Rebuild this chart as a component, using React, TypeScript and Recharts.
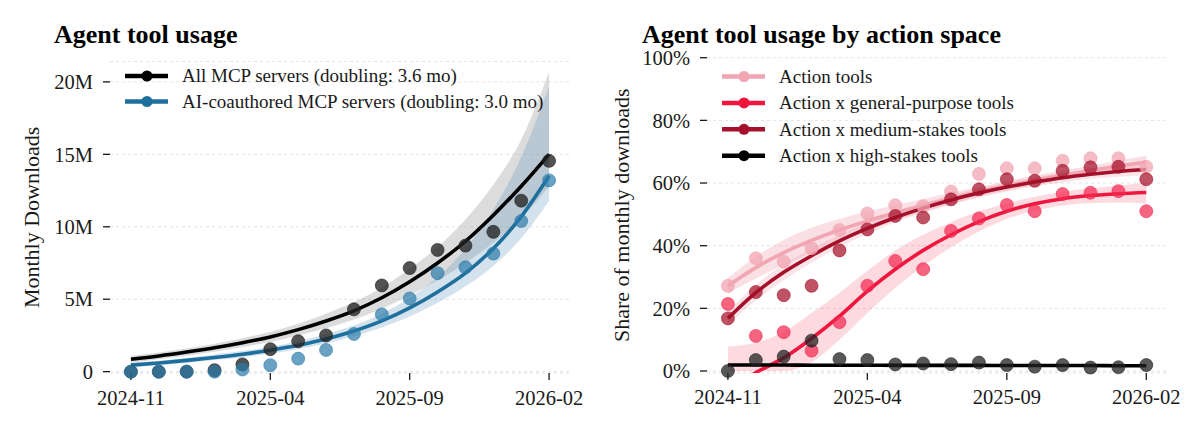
import { Area, CartesianGrid, ComposedChart, Line, XAxis, YAxis } from 'recharts';

const MONTHS = [
  '2024-11', '2024-12', '2025-01', '2025-02', '2025-03', '2025-04', '2025-05', '2025-06',
  '2025-07', '2025-08', '2025-09', '2025-10', '2025-11', '2025-12', '2026-01', '2026-02',
];
const X_TICKS = [0, 5, 10, 15];

// left panel, millions of monthly downloads
const ALL_POINTS = [0, 0, 0, 0.1, 0.5, 1.55, 2.1, 2.5, 4.3, 5.95, 7.15, 8.4, 8.7, 9.65, 11.8, 14.55];
const AI_POINTS = [0, 0, 0, 0, 0.15, 0.45, 0.9, 1.5, 2.6, 3.95, 5.05, 6.8, 7.2, 8.15, 10.4, 13.2];
const ALL_FIT = [0.85, 1.08, 1.35, 1.65, 2.0, 2.4, 2.9, 3.5, 4.2, 5.1, 6.2, 7.5, 9.0, 10.8, 12.8, 15.0];
const AI_FIT = [0.45, 0.6, 0.78, 0.98, 1.2, 1.48, 1.82, 2.25, 2.8, 3.5, 4.4, 5.5, 6.8, 8.5, 10.7, 13.5];
const ALL_LO = [0.62, 0.85, 1.1, 1.38, 1.7, 2.05, 2.5, 3.0, 3.6, 4.35, 5.25, 6.3, 7.5, 8.9, 10.6, 12.8];
const ALL_HI = [1.1, 1.32, 1.6, 1.92, 2.3, 2.75, 3.3, 4.0, 4.8, 5.8, 7.1, 8.6, 10.5, 12.9, 16.0, 20.7];
const AI_LO = [0.3, 0.45, 0.6, 0.8, 1.0, 1.25, 1.55, 1.95, 2.45, 3.05, 3.8, 4.75, 5.9, 7.3, 9.2, 11.8];
const AI_HI = [0.6, 0.75, 0.95, 1.18, 1.42, 1.72, 2.1, 2.6, 3.2, 4.0, 5.1, 6.5, 8.5, 11.2, 14.8, 19.7];
const USAGE_TICKS = [0, 5, 10, 15, 20];

// right panel, share of monthly downloads (%)
const ACTION_POINTS = [27.2, 36, 34.9, 39.2, 45, 50.3, 52.9, 52.6, 57.3, 62.9, 64.7, 64.7, 67.1, 67.9, 67.9, 65.2];
const GENERAL_POINTS = [21.4, 11.2, 12.4, 6.5, 15.6, 27.2, 35.1, 32.5, 44.7, 48.7, 53, 51, 56.5, 56.9, 57.4, 51];
const MEDIUM_POINTS = [16.8, 25.2, 24.2, 27.2, 38.5, 45.2, 49.5, 49, 54.8, 58, 61.2, 60.7, 63.9, 65, 65.2, 61.2];
const HIGH_POINTS = [0, 3.5, 4.6, 9.7, 3.8, 3.5, 2.1, 2.4, 2.2, 2.7, 1.9, 1.4, 1.9, 1.1, 1.2, 1.9];

const ACTION_FIT = [27.2, 33, 37.8, 41.7, 45, 47.9, 50.5, 52.9, 55.1, 57.2, 59.1, 60.9, 62.5, 64, 65.4, 66.7];
const GENERAL_FIT = [-6, -0.5, 4.2, 10.4, 17.5, 25.5, 32.5, 38.5, 43.5, 47.7, 51, 53.4, 55, 56, 56.6, 57];
const MEDIUM_FIT = [16.8, 25, 31.5, 36.8, 41.5, 45.5, 49, 52, 54.6, 56.8, 58.7, 60.3, 61.7, 62.8, 63.7, 64.3];
const HIGH_FIT = [1.9, 1.9, 1.9, 1.85, 1.85, 1.85, 1.8, 1.8, 1.8, 1.8, 1.75, 1.75, 1.75, 1.75, 1.7, 1.7];

const ACTION_LO = [24.7, 29.5, 33.8, 37.7, 41.5, 44.9, 48, 50.9, 53.3, 55.7, 57.6, 59.4, 61, 62.5, 63.6, 64.7];
const ACTION_HI = [29.7, 36.5, 41.8, 45.7, 48.5, 50.9, 53, 54.9, 56.9, 58.7, 60.6, 62.4, 64, 65.5, 67.2, 68.7];
const GENERAL_LO = [0, 0, 0, 2.8, 10, 18.5, 26.5, 33.5, 39.5, 44.5, 48.5, 51.2, 52.8, 53.6, 53.8, 53.5];
const GENERAL_HI = [7.8, 9, 12.5, 18.5, 25, 32, 38.5, 43.5, 47.5, 51, 53.5, 55.6, 57.2, 58.3, 59.2, 60.2];
const MEDIUM_LO = [14.8, 22.5, 29, 34.6, 39.5, 43.7, 47.5, 50.5, 53.1, 55.3, 57.2, 58.8, 60.2, 61.3, 62, 62.5];
const MEDIUM_HI = [18.8, 27.5, 34, 39, 43.5, 47.3, 50.5, 53.5, 56.1, 58.3, 60.2, 61.8, 63.2, 64.3, 65.4, 66.1];
const HIGH_LO = [1.4, 1.4, 1.4, 1.35, 1.35, 1.35, 1.3, 1.3, 1.3, 1.3, 1.25, 1.25, 1.25, 1.25, 1.2, 1.2];
const HIGH_HI = [2.4, 2.4, 2.4, 2.35, 2.35, 2.35, 2.3, 2.3, 2.3, 2.3, 2.25, 2.25, 2.25, 2.25, 2.2, 2.2];
const SHARE_TICKS = [0, 20, 40, 60, 80, 100];

const FONT = '"Liberation Serif", "DejaVu Serif", serif';
const INK = '#1a1a1a';

const usageData = MONTHS.map((month, i) => ({
  i,
  month,
  allPts: ALL_POINTS[i],
  aiPts: AI_POINTS[i],
  allFit: ALL_FIT[i],
  aiFit: AI_FIT[i],
  allBand: [ALL_LO[i], ALL_HI[i]],
  aiBand: [AI_LO[i], AI_HI[i]],
}));

const shareData = MONTHS.map((month, i) => ({
  i,
  month,
  actionPts: ACTION_POINTS[i],
  generalPts: GENERAL_POINTS[i],
  mediumPts: MEDIUM_POINTS[i],
  highPts: HIGH_POINTS[i],
  actionFit: ACTION_FIT[i],
  generalFit: GENERAL_FIT[i],
  mediumFit: MEDIUM_FIT[i],
  highFit: HIGH_FIT[i],
  actionBand: [ACTION_LO[i], ACTION_HI[i]],
  generalBand: [GENERAL_LO[i], GENERAL_HI[i]],
  mediumBand: [MEDIUM_LO[i], MEDIUM_HI[i]],
  highBand: [HIGH_LO[i], HIGH_HI[i]],
}));

const tickStyle = { fill: INK, fontSize: 20.5, fontFamily: FONT };
const tickLine = { stroke: INK, strokeWidth: 1.3 };
const axisLabelStyle = { textAnchor: 'middle', fill: INK, fontSize: 22, fontFamily: FONT };

function dots(fill: string, opacity: number) {
  return { r: 6.5, fill, fillOpacity: opacity, stroke: fill, strokeOpacity: opacity, strokeWidth: 0.8, clipDot: false };
}

const LEFT_LEGEND = [
  { label: 'All MCP servers (doubling: 3.6 mo)', color: '#000000' },
  { label: 'AI-coauthored MCP servers (doubling: 3.0 mo)', color: '#1f6f9e' },
];
const RIGHT_LEGEND = [
  { label: 'Action tools', color: '#f2a5b2' },
  { label: 'Action x general-purpose tools', color: '#f0163e' },
  { label: 'Action x medium-stakes tools', color: '#a5102a' },
  { label: 'Action x high-stakes tools', color: '#000000' },
];

function Legend({ items, x, y, step }: { items: { label: string; color: string }[]; x: number; y: number; step: number }) {
  return (
    <g>
      {items.map((it, k) => {
        const cy = y + k * step;
        return (
          <g key={it.label}>
            <line x1={x} x2={x + 43} y1={cy} y2={cy} stroke={it.color} strokeWidth={4.5} />
            <circle cx={x + 22} cy={cy} r={5.5} fill={it.color} />
            <text x={x + 57} y={cy + 6.4} fontSize={19} fontFamily={FONT} fill={INK}>
              {it.label}
            </text>
          </g>
        );
      })}
    </g>
  );
}

export default function App() {
  return (
    <div style={{ position: 'absolute', left: 0, top: 0, width: 1200, height: 432, background: '#fff' }}>
      <div style={{ position: 'absolute', left: 0, top: 0 }}>
        <ComposedChart width={600} height={432} data={usageData} margin={{ top: 61.6, right: 30, bottom: 0, left: 0 }}>
          <CartesianGrid vertical={false} stroke="#e2e2e2" strokeDasharray="3 3" />
          <XAxis
            dataKey="i"
            type="number"
            domain={[-0.75, 15.75]}
            ticks={X_TICKS}
            tickFormatter={(v: number) => MONTHS[v]}
            axisLine={false}
            tickLine={tickLine}
            tickSize={7}
            tickMargin={10}
            height={58.9}
            tick={tickStyle}
          />
          <YAxis
            domain={[-0.1, 21.4]}
            ticks={USAGE_TICKS}
            tickFormatter={(v: number) => (v === 0 ? '0' : `${v}M`)}
            axisLine={false}
            tickLine={tickLine}
            tickSize={7}
            tickMargin={10}
            width={110}
            tick={tickStyle}
            label={{ value: 'Monthly Downloads', angle: -90, position: 'insideLeft', offset: 31, style: axisLabelStyle }}
          />
          <Area dataKey="allBand" type="monotone" stroke="none" fill="#9a9a9a" fillOpacity={0.35} isAnimationActive={false} activeDot={false} />
          <Area dataKey="aiBand" type="monotone" stroke="none" fill="#4f8db5" fillOpacity={0.25} isAnimationActive={false} activeDot={false} />
          <Line dataKey="allFit" type="monotone" stroke="#000" strokeWidth={3.6} dot={false} activeDot={false} isAnimationActive={false} />
          <Line dataKey="aiFit" type="monotone" stroke="#1f6f9e" strokeWidth={3.6} dot={false} activeDot={false} isAnimationActive={false} />
          <Line dataKey="allPts" stroke="none" dot={dots('#222222', 0.78)} activeDot={false} isAnimationActive={false} />
          <Line dataKey="aiPts" stroke="none" dot={dots('#2a7aaa', 0.7)} activeDot={false} isAnimationActive={false} />
        </ComposedChart>
      </div>

      <div style={{ position: 'absolute', left: 600, top: 0 }}>
        <ComposedChart width={600} height={432} data={shareData} margin={{ top: 57.7, right: 32.8, bottom: 0, left: 0 }}>
          <CartesianGrid vertical={false} stroke="#e2e2e2" strokeDasharray="3 3" />
          <XAxis
            dataKey="i"
            type="number"
            domain={[-0.75, 15.75]}
            ticks={X_TICKS}
            tickFormatter={(v: number) => MONTHS[v]}
            axisLine={false}
            tickLine={tickLine}
            tickSize={7}
            tickMargin={10}
            height={59.1}
            tick={tickStyle}
          />
          <YAxis
            domain={[-0.6, 100]}
            allowDataOverflow
            ticks={SHARE_TICKS}
            tickFormatter={(v: number) => `${v}%`}
            axisLine={false}
            tickLine={tickLine}
            tickSize={7}
            tickMargin={10}
            width={107}
            tick={tickStyle}
            label={{ value: 'Share of monthly downloads', angle: -90, position: 'insideLeft', offset: 21, style: axisLabelStyle }}
          />
          <Area dataKey="actionBand" type="monotone" stroke="none" fill="#f2a5b2" fillOpacity={0.35} isAnimationActive={false} activeDot={false} />
          <Area dataKey="generalBand" type="monotone" stroke="none" fill="#f0163e" fillOpacity={0.16} isAnimationActive={false} activeDot={false} />
          <Area dataKey="mediumBand" type="monotone" stroke="none" fill="#e8768a" fillOpacity={0.2} isAnimationActive={false} activeDot={false} />
          <Area dataKey="highBand" type="monotone" stroke="none" fill="#888888" fillOpacity={0.3} isAnimationActive={false} activeDot={false} />
          <Line dataKey="actionFit" type="monotone" stroke="#f2a5b2" strokeWidth={3.6} dot={false} activeDot={false} isAnimationActive={false} />
          <Line dataKey="generalFit" type="monotone" stroke="#f0163e" strokeWidth={3.6} dot={false} activeDot={false} isAnimationActive={false} />
          <Line dataKey="mediumFit" type="monotone" stroke="#a5102a" strokeWidth={3.6} dot={false} activeDot={false} isAnimationActive={false} />
          <Line dataKey="highFit" type="monotone" stroke="#000" strokeWidth={3.6} dot={false} activeDot={false} isAnimationActive={false} />
          <Line dataKey="actionPts" stroke="none" dot={dots('#f2a5b2', 0.75)} activeDot={false} isAnimationActive={false} />
          <Line dataKey="generalPts" stroke="none" dot={dots('#f2284f', 0.72)} activeDot={false} isAnimationActive={false} />
          <Line dataKey="mediumPts" stroke="none" dot={dots('#a5102a', 0.72)} activeDot={false} isAnimationActive={false} />
          <Line dataKey="highPts" stroke="none" dot={dots('#222222', 0.75)} activeDot={false} isAnimationActive={false} />
        </ComposedChart>
      </div>

      <svg width={1200} height={432} style={{ position: 'absolute', left: 0, top: 0, pointerEvents: 'none' }}>
        <text x={54} y={42.5} fontSize={26} fontWeight="bold" fontFamily={FONT} fill="#000">
          Agent tool usage
        </text>
        <text x={642} y={43.3} fontSize={26} fontWeight="bold" fontFamily={FONT} fill="#000">
          Agent tool usage by action space
        </text>
        <Legend items={LEFT_LEGEND} x={125} y={76} step={25.5} />
        <Legend items={RIGHT_LEGEND} x={722} y={76.5} step={26.4} />
      </svg>
    </div>
  );
}
